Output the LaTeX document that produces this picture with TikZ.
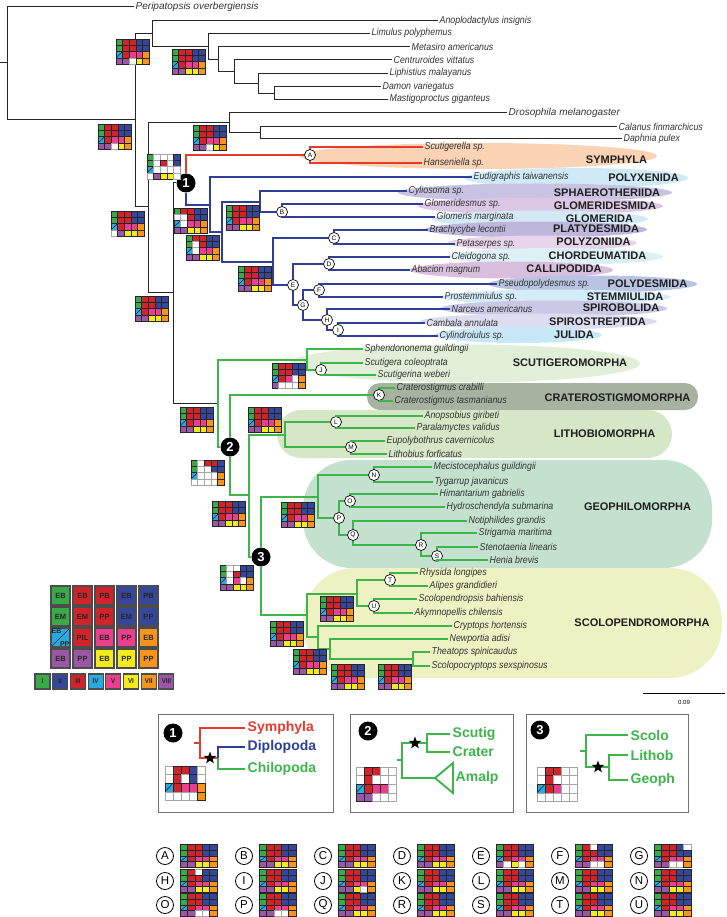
\documentclass[tikz,border=0pt]{standalone}
\usepackage{fontspec}
\setmainfont{Liberation Sans}
\newfontfamily\spfont[FakeStretch=0.88]{Liberation Sans}
\usetikzlibrary{shapes.geometric}
% cell colours
\definecolor{cG}{HTML}{3AAA49}
\definecolor{cR}{HTML}{D2232A}
\definecolor{cB}{HTML}{34479B}
\definecolor{cC}{HTML}{27AAE1}
\definecolor{cK}{HTML}{EC3E8E}
\definecolor{cY}{HTML}{F4EB1A}
\definecolor{cO}{HTML}{F7941D}
\definecolor{cU}{HTML}{9A57A5}
% branch colours
\definecolor{lnR}{HTML}{E8392C}
\definecolor{lnB}{HTML}{2F3F97}
\definecolor{lnG}{HTML}{3DB54A}
% clade bands
\definecolor{bSym}{HTML}{FAD2B4}
\definecolor{bPolx}{HTML}{CFE9F6}
\definecolor{bSpha}{HTML}{C8C3E2}
\definecolor{bGlds}{HTML}{DCC8E4}
\definecolor{bGlom}{HTML}{D3EAF6}
\definecolor{bPlat}{HTML}{BDB7DC}
\definecolor{bPolz}{HTML}{E6D4EA}
\definecolor{bChor}{HTML}{DDF0F6}
\definecolor{bCall}{HTML}{D9BEDD}
\definecolor{bPold}{HTML}{B9C4E2}
\definecolor{bStem}{HTML}{D3ECF8}
\definecolor{bSpir}{HTML}{C9C8E5}
\definecolor{bSpst}{HTML}{DCDDF0}
\definecolor{bJuli}{HTML}{C9E8F7}
\definecolor{bScut}{HTML}{E2EFD8}
\definecolor{bCrat}{HTML}{A7B2A0}
\definecolor{bLith}{HTML}{D5E7C6}
\definecolor{bGeop}{HTML}{C4E1CF}
\definecolor{bScol}{HTML}{EEF2C3}
\tikzset{
  blk/.style    = {line width=1pt, black!85},
  redl/.style   = {line width=1.9pt, lnR},
  bluel/.style  = {line width=1.9pt, lnB},
  grnl/.style   = {line width=1.9pt, lnG},
  sp/.style     = {anchor=west, inner sep=1.5pt, text=black!80, font=\spfont\itshape\fontsize{10}{11}\selectfont},
  spw/.style    = {sp, font=\itshape\fontsize{10}{11}\selectfont},
  clade/.style  = {inner sep=0pt, text=black!88, font=\bfseries\fontsize{11}{12}\selectfont},
  lettr/.style  = {circle, draw, fill=white, line width=0.7pt, inner sep=0pt, minimum size=11pt, font=\fontsize{6.5}{6.5}\selectfont},
  numb/.style   = {circle, fill=black, text=white, inner sep=0pt, minimum size=19pt, font=\bfseries\fontsize{13}{13}\selectfont},
  lcirc/.style  = {circle, draw, line width=0.8pt, inner sep=0pt, minimum size=17pt, font=\fontsize{11.5}{11.5}\selectfont},
  panel/.style  = {draw=black!55, line width=0.9pt, inner sep=0pt, minimum height=98pt},
  tl/.style     = {anchor=west, inner sep=2.5pt, font=\bfseries\fontsize{14}{14}\selectfont},
  starn/.style  = {star, star points=5, star point ratio=2.4, fill=black, inner sep=0pt, minimum size=13pt},
  cellg/.style  = {fill=cG, draw=black!85, line width=0.6pt},
  cellr/.style  = {fill=cR, draw=black!85, line width=0.6pt},
  cellb/.style  = {fill=cB, draw=black!85, line width=0.6pt},
  cellc/.style  = {fill=cC, draw=black!85, line width=0.6pt},
  cellk/.style  = {fill=cK, draw=black!85, line width=0.6pt},
  celly/.style  = {fill=cY, draw=black!85, line width=0.6pt},
  cello/.style  = {fill=cO, draw=black!85, line width=0.6pt},
  cellu/.style  = {fill=cU, draw=black!85, line width=0.6pt},
  cellw/.style  = {fill=white, draw=black!35, line width=0.6pt},
  celld/.style  = {fill=cC, draw=black!85, line width=0.6pt,
                   path picture={\draw[black!85, line width=0.6pt] (path picture bounding box.south west) -- (path picture bounding box.north east);}},
  lgcell/.style = {minimum size=19pt, inner sep=0pt, line width=1.1pt, draw=black!70, text=black!85, font=\bfseries\fontsize{7.5}{7.5}\selectfont},
  rmcell/.style = {minimum size=15pt, inner sep=0pt, line width=1.1pt, draw=black!70, text=black!85, font=\bfseries\spfont\fontsize{7}{7}\selectfont}
}
% x, y, cell width, cell height, colour list (5 per row)
\newcommand{\mgrid}[5]{%
  \edef\glist{#5}%
  \foreach \gc [count=\i from 0] in \glist {%
    \pgfmathtruncatemacro{\cx}{mod(\i,5)}%
    \pgfmathtruncatemacro{\cy}{(\i-\cx)/5}%
    \path[cell\gc] ({#1+\cx*#3},{#2+\cy*#4}) rectangle ++(#3,#4);
  }}
\newcommand{\tgrid}[3]{\mgrid{#1}{#2}{6.6}{6.3}{#3}}
% letter, x, y, colour list
\newcommand{\lgrid}[4]{%
  \node[lcirc] (k#1) at (#2,#3) {#1};
  \mgrid{#2+15}{#3-11.4}{7.4}{5.7}{#4}}
\def\fullg{g,r,r,b,b,g,r,r,b,b,d,r,k,k,o,u,u,y,y,o}

\begin{document}
\begin{tikzpicture}[x=1pt, y=-1pt]
\useasboundingbox (0,0) rectangle (726,917);

% ---- clade bands
\fill[bSym]  (478.5,156)   ellipse [x radius=178.5, y radius=13];
\fill[bPolx] (576.5,178)   ellipse [x radius=111.5, y radius=10];
\fill[bSpha] (535,192.5)   ellipse [x radius=137,   y radius=9];
\fill[bGlds] (540.5,206)   ellipse [x radius=122.5, y radius=8.5];
\fill[bGlom] (540,219)     ellipse [x radius=108,   y radius=8.5];
\fill[bPlat] (536,229.5)   ellipse [x radius=111,   y radius=8];
\fill[bPolz] (542,243)     ellipse [x radius=95,    y radius=7.5];
\fill[bChor] (555.5,256.5) ellipse [x radius=107.5, y radius=8.5];
\fill[bCall] (511.5,270)   ellipse [x radius=101.5, y radius=8.5];
\fill[bPold] (592.5,284)   ellipse [x radius=104.5, y radius=8.5];
\fill[bStem] (555,297)     ellipse [x radius=115,   y radius=7.5];
\fill[bSpir] (553.5,308.5) ellipse [x radius=113.5, y radius=8];
\fill[bSpst] (538.5,321.5) ellipse [x radius=118.5, y radius=8];
\fill[bJuli] (518.5,335)   ellipse [x radius=83.5,  y radius=8];
\fill[bScut] (465,363.5)   ellipse [x radius=175,   y radius=19];
\fill[bCrat, rounded corners=13pt] (367,383) rectangle (698,410);
\fill[bLith, rounded corners=24pt] (277,410) rectangle (672,458);
\fill[bGeop, rounded corners=48pt] (303,460) rectangle (712,568);
\fill[bScol, rounded corners=52pt] (303,568) rectangle (722,678);

% ---- clade names
\node[clade] (lSym)  at (616.5,160) {SYMPHYLA};
\node[clade] (lPolx) at (643.5,178) {POLYXENIDA};
\node[clade] (lSpha) at (607,193)   {SPHAEROTHERIIDA};
\node[clade] (lGlds) at (605,206)   {GLOMERIDESMIDA};
\node[clade] (lGlom) at (599.5,219) {GLOMERIDA};
\node[clade] (lPlat) at (596,229)   {PLATYDESMIDA};
\node[clade] (lPolz) at (593.5,242) {POLYZONIIDA};
\node[clade] (lChor) at (597.5,256) {CHORDEUMATIDA};
\node[clade] (lCall) at (564,269)   {CALLIPODIDA};
\node[clade] (lPold) at (647.5,284) {POLYDESMIDA};
\node[clade] (lStem) at (625,297)   {STEMMIULIDA};
\node[clade] (lSpir) at (621,308)   {SPIROBOLIDA};
\node[clade] (lSpst) at (597.5,322) {SPIROSTREPTIDA};
\node[clade] (lJuli) at (574,335)   {JULIDA};
\node[clade] (lScut) at (570,363)   {SCUTIGEROMORPHA};
\node[clade] (lCrat) at (617.5,398) {CRATEROSTIGMOMORPHA};
\node[clade] (lLith) at (604.5,434) {LITHOBIOMORPHA};
\node[clade] (lGeop) at (637.5,507) {GEOPHILOMORPHA};
\node[clade] (lScol) at (642,623)   {SCOLOPENDROMORPHA};

% ---- terminal taxa
\node[spw] (peri) at (134,7)     {Peripatopsis overbergiensis};
\node[sp]  (anop) at (438,20.7)  {Anoplodactylus insignis};
\node[sp]  (limu) at (370,33.3)  {Limulus polyphemus};
\node[sp]  (meta) at (410,46.7)  {Metasiro americanus};
\node[sp]  (cent) at (392,60)    {Centruroides vittatus};
\node[sp]  (liph) at (388,73.3)  {Liphistius malayanus};
\node[sp]  (damo) at (381,86.7)  {Damon variegatus};
\node[sp]  (mast) at (388,99.3)  {Mastigoproctus giganteus};
\node[spw] (dros) at (507,113)   {Drosophila melanogaster};
\node[sp]  (cala) at (617,127)   {Calanus finmarchicus};
\node[sp]  (daph) at (622,139)   {Daphnia pulex};
\node[sp]  (scge) at (423,147)   {Scutigerella sp.};
\node[sp]  (hans) at (422,163)   {Hanseniella sp.};
\node[sp]  (eudi) at (472,177)   {Eudigraphis taiwanensis};
\node[sp]  (cyli) at (407,191)   {Cyliosoma sp.};
\node[sp]  (glds) at (423,204)   {Glomeridesmus sp.};
\node[sp]  (glom) at (435,217)   {Glomeris marginata};
\node[sp]  (brac) at (428,230)   {Brachycybe lecontii};
\node[sp]  (peta) at (455,244)   {Petaserpes sp.};
\node[sp]  (clei) at (450,257)   {Cleidogona sp.};
\node[sp]  (abac) at (410,270)   {Abacion magnum};
\node[sp]  (pseu) at (497,284)   {Pseudopolydesmus sp.};
\node[sp]  (pros) at (443,297)   {Prostemmiulus sp.};
\node[sp]  (narc) at (450,309)   {Narceus americanus};
\node[sp]  (camb) at (425,323)   {Cambala annulata};
\node[sp]  (cyld) at (438,336)   {Cylindroiulus sp.};
\node[sp]  (sphe) at (363,349)   {Sphendononema guildingii};
\node[sp]  (scco) at (363,363)   {Scutigera coleoptrata};
\node[sp]  (scwe) at (376,375)   {Scutigerina weberi};
\node[sp]  (crcr) at (395,388)   {Craterostigmus crabilli};
\node[sp]  (crta) at (393,401)   {Craterostigmus tasmanianus};
\node[sp]  (anps) at (423,416)   {Anopsobius giribeti};
\node[sp]  (para) at (415,428)   {Paralamyctes validus};
\node[sp]  (eupo) at (385,441)   {Eupolybothrus cavernicolus};
\node[sp]  (lifo) at (387,454)   {Lithobius forficatus};
\node[sp]  (meci) at (432,467)   {Mecistocephalus guildingii};
\node[sp]  (tyga) at (433,482)   {Tygarrup javanicus};
\node[sp]  (hima) at (438,494)   {Himantarium gabrielis};
\node[sp]  (hydr) at (445,507)   {Hydroschendyla submarina};
\node[sp]  (noti) at (467,521)   {Notiphilides grandis};
\node[sp]  (stri) at (477,533)   {Strigamia maritima};
\node[sp]  (sten) at (478,547)   {Stenotaenia linearis};
\node[sp]  (heni) at (488,560)   {Henia brevis};
\node[sp]  (rhys) at (418,573)   {Rhysida longipes};
\node[sp]  (alip) at (428,586)   {Alipes grandidieri};
\node[sp]  (scbh) at (417,599)   {Scolopendropsis bahiensis};
\node[sp]  (akym) at (413,613)   {Akymnopellis chilensis};
\node[sp]  (cryp) at (452,626)   {Cryptops hortensis};
\node[sp]  (newp) at (448,639)   {Newportia adisi};
\node[sp]  (thea) at (430,652)   {Theatops spinicaudus};
\node[sp]  (scsx) at (430,666)   {Scolopocryptops sexspinosus};

% ---- internal nodes
\coordinate (rst)  at (0,63);
\coordinate (root) at (7,63);
\coordinate (arth) at (135,120);
\coordinate (chel) at (152,33.5);
\coordinate (ch2)  at (208,46.7);
\coordinate (ch3)  at (218,60);
\coordinate (ch4)  at (234,71.7);
\coordinate (ch5)  at (258,83.3);
\coordinate (ch6)  at (274,93.3);
\coordinate (mand) at (148,207);
\coordinate (panc) at (229,123);
\coordinate (crus) at (260,133);
\coordinate (myri) at (173,292);
\coordinate (dipl) at (210,205);
\coordinate (hepe) at (222,232);
\coordinate (pent) at (260,202);
\coordinate (helm) at (273,262);
\coordinate (chil) at (218,403);
\coordinate (scut) at (307,360);
\coordinate (plr2) at (249,495);
\coordinate (lith) at (285,435);
\coordinate (geop) at (318,497);
\coordinate (scol) at (307,615);
\coordinate (sc1)  at (357,594);
\coordinate (sc2)  at (318,637);
\coordinate (sc3)  at (330,649);
\coordinate (sc4)  at (413,659);

\node[numb] (n1) at (186,183) {1};
\node[numb] (n2) at (230,447) {2};
\node[numb] (n3) at (261,557) {3};
\node[lettr] (nA) at (310,155) {A};
\node[lettr] (nB) at (282,212) {B};
\node[lettr] (nC) at (334,238) {C};
\node[lettr] (nD) at (329,264) {D};
\node[lettr] (nE) at (293,285) {E};
\node[lettr] (nF) at (319,290) {F};
\node[lettr] (nG) at (303,305) {G};
\node[lettr] (nH) at (327,320) {H};
\node[lettr] (nI) at (338,330) {I};
\node[lettr] (nJ) at (321,370) {J};
\node[lettr] (nK) at (379,395) {K};
\node[lettr] (nL) at (336,422) {L};
\node[lettr] (nM) at (351,447) {M};
\node[lettr] (nN) at (374,475) {N};
\node[lettr] (nO) at (350,501) {O};
\node[lettr] (nP) at (339,518) {P};
\node[lettr] (nQ) at (353,535) {Q};
\node[lettr] (nR) at (421,545) {R};
\node[lettr] (nS) at (437,556) {S};
\node[lettr] (nT) at (390,580) {T};
\node[lettr] (nU) at (374,606) {U};

% ---- outgroups (black)
\draw[blk] (rst) -- (root);
\draw[blk] (root) |- (peri.west);
\draw[blk] (root) |- (arth);
\draw[blk] (arth) |- (chel);
\draw[blk] (arth) |- (mand);
\draw[blk] (chel) |- (anop.west);
\draw[blk] (chel) |- (ch2);
\draw[blk] (ch2) |- (limu.west);
\draw[blk] (ch2) |- (ch3);
\draw[blk] (ch3) |- (meta.west);
\draw[blk] (ch3) |- (ch4);
\draw[blk] (ch4) |- (cent.west);
\draw[blk] (ch4) |- (ch5);
\draw[blk] (ch5) |- (liph.west);
\draw[blk] (ch5) |- (ch6);
\draw[blk] (ch6) |- (damo.west);
\draw[blk] (ch6) |- (mast.west);
\draw[blk] (mand) |- (panc);
\draw[blk] (mand) |- (myri);
\draw[blk] (panc) |- (dros.west);
\draw[blk] (panc) |- (crus);
\draw[blk] (crus) |- (cala.west);
\draw[blk] (crus) |- (daph.west);
\draw[blk] (myri) |- (n1);
\draw[blk] (myri) |- (chil);

% ---- Symphyla (red)
\draw[redl] (n1) |- (nA);
\draw[redl] (nA) |- (scge.west);
\draw[redl] (nA) |- (hans.west);

% ---- Diplopoda (blue)
\draw[bluel] (n1) |- (dipl);
\draw[bluel] (dipl) |- (eudi.west);
\draw[bluel] (dipl) |- (hepe);
\draw[bluel] (hepe) |- (pent);
\draw[bluel] (hepe) |- (helm);
\draw[bluel] (pent) |- (cyli.west);
\draw[bluel] (pent) |- (nB);
\draw[bluel] (nB) |- (glds.west);
\draw[bluel] (nB) |- (glom.west);
\draw[bluel] (helm) |- (nC);
\draw[bluel] (helm) |- (nE);
\draw[bluel] (nC) |- (brac.west);
\draw[bluel] (nC) |- (peta.west);
\draw[bluel] (nE) |- (nD);
\draw[bluel] (nE) |- (nG);
\draw[bluel] (nD) |- (clei.west);
\draw[bluel] (nD) |- (abac.west);
\draw[bluel] (nG) |- (nF);
\draw[bluel] (nG) |- (nH);
\draw[bluel] (nF) |- (pseu.west);
\draw[bluel] (nF) |- (pros.west);
\draw[bluel] (nH) |- (narc.west);
\draw[bluel] (nH) |- (nI);
\draw[bluel] (nI) |- (camb.west);
\draw[bluel] (nI) |- (cyld.west);

% ---- Chilopoda (green)
\draw[grnl] (chil) |- (scut);
\draw[grnl] (chil) |- (n2);
\draw[grnl] (scut) |- (sphe.west);
\draw[grnl] (scut) |- (nJ);
\draw[grnl] (nJ) |- (scco.west);
\draw[grnl] (nJ) |- (scwe.west);
\draw[grnl] (n2) |- (nK);
\draw[grnl] (n2) |- (plr2);
\draw[grnl] (nK) |- (crcr.west);
\draw[grnl] (nK) |- (crta.west);
\draw[grnl] (plr2) |- (lith);
\draw[grnl] (plr2) |- (n3);
\draw[grnl] (lith) |- (nL);
\draw[grnl] (lith) |- (nM);
\draw[grnl] (nL) |- (anps.west);
\draw[grnl] (nL) |- (para.west);
\draw[grnl] (nM) |- (eupo.west);
\draw[grnl] (nM) |- (lifo.west);
\draw[grnl] (n3) |- (geop);
\draw[grnl] (n3) |- (scol);
\draw[grnl] (geop) |- (nN);
\draw[grnl] (geop) |- (nP);
\draw[grnl] (nN) |- (meci.west);
\draw[grnl] (nN) |- (tyga.west);
\draw[grnl] (nP) |- (nO);
\draw[grnl] (nP) |- (nQ);
\draw[grnl] (nO) |- (hima.west);
\draw[grnl] (nO) |- (hydr.west);
\draw[grnl] (nQ) |- (noti.west);
\draw[grnl] (nQ) |- (nR);
\draw[grnl] (nR) |- (stri.west);
\draw[grnl] (nR) |- (nS);
\draw[grnl] (nS) |- (sten.west);
\draw[grnl] (nS) |- (heni.west);
\draw[grnl] (scol) |- (sc1);
\draw[grnl] (scol) |- (sc2);
\draw[grnl] (sc1) |- (nT);
\draw[grnl] (sc1) |- (nU);
\draw[grnl] (nT) |- (rhys.west);
\draw[grnl] (nT) |- (alip.west);
\draw[grnl] (nU) |- (scbh.west);
\draw[grnl] (nU) |- (akym.west);
\draw[grnl] (sc2) |- (cryp.west);
\draw[grnl] (sc2) |- (sc3);
\draw[grnl] (sc3) |- (newp.west);
\draw[grnl] (sc3) |- (sc4);
\draw[grnl] (sc4) |- (thea.west);
\draw[grnl] (sc4) |- (scsx.west);

% ---- character grids on the tree
\tgrid{116}{39}{g,r,r,b,b,g,r,r,b,b,d,r,k,k,o,u,u,w,y,o}
\tgrid{172}{49}{\fullg}
\tgrid{98}{124}{g,r,r,b,b,g,r,r,b,b,d,r,k,k,o,u,u,w,y,o}
\tgrid{193}{125}{g,r,r,b,b,g,r,r,b,b,d,r,k,k,o,u,u,w,y,o}
\tgrid{147}{154}{g,w,w,w,b,g,w,r,w,b,d,w,w,w,w,w,u,y,y,w}
\tgrid{111}{211}{g,r,r,b,b,g,r,r,b,b,d,r,k,k,o,w,u,y,y,o}
\tgrid{174}{208}{g,r,r,b,b,w,w,r,b,b,d,w,k,k,o,u,u,y,y,o}
\tgrid{186}{235}{g,r,r,b,b,g,w,r,b,b,d,w,k,k,o,u,u,y,y,o}
\tgrid{226}{205}{\fullg}
\tgrid{238}{266}{\fullg}
\tgrid{135}{296}{\fullg}
\tgrid{272}{363}{g,r,r,b,b,g,r,r,b,b,d,r,k,w,o,u,w,w,w,o}
\tgrid{180}{407}{\fullg}
\tgrid{248}{407}{\fullg}
\tgrid{191}{460}{g,w,r,r,b,g,w,w,b,b,d,w,w,w,o,w,w,w,w,o}
\tgrid{212}{501}{\fullg}
\tgrid{281}{502}{\fullg}
\tgrid{220}{565}{g,w,w,b,b,g,w,r,b,b,d,w,k,w,o,u,u,y,y,o}
\tgrid{320}{596}{\fullg}
\tgrid{270}{621}{\fullg}
\tgrid{293}{649}{\fullg}
\tgrid{331}{664}{\fullg}
\tgrid{378}{664}{\fullg}

% ---- legend
\foreach \c/\t [count=\i from 0] in {g/EB,r/EB,r/PB,b/EB,b/PB,g/EM,r/EM,r/PP,b/EM,b/PP,d/,r/PIL,k/EB,k/PP,o/EB,u/EB,u/PP,y/EB,y/PP,o/PP}{
  \pgfmathtruncatemacro{\lx}{mod(\i,5)}
  \pgfmathtruncatemacro{\ly}{(\i-\lx)/5}
  \node[cell\c, lgcell] (lg\i) at ({60.5+\lx*22},{595.5+\ly*21}) {\t};
}
\node[anchor=north west, inner sep=1pt, font=\bfseries\fontsize{7}{7}\selectfont, text=black!85] (lgEB) at (lg10.north west) {EB};
\node[anchor=south east, inner sep=1pt, font=\bfseries\fontsize{7}{7}\selectfont, text=black!85] (lgPP) at (lg10.south east) {PP};
\foreach \c/\t [count=\i from 0] in {g/I,b/II,r/III,c/IV,k/V,y/VI,o/VII,u/VIII}{
  \node[cell\c, rmcell] (rm\i) at ({42.5+\i*17.7},681.5) {\t};
}

% ---- scale bar
\coordinate (sbl) at (643,693);
\coordinate (sbr) at (725,693);
\draw[line width=1pt] (sbl) -- (sbr) node[midway, below=3pt, font=\fontsize{6}{6}\selectfont] (sbt) {0.09};

% ---- panel 1
\node[panel, minimum width=175pt] (box1) at (245.5,763) {};
\node[numb] (m1) at (173,733) {1};
\node[tl, text=lnR] (tSym) at (245,728) {Symphyla};
\node[tl, text=lnB] (tDip) at (245,747) {Diplopoda};
\node[tl, text=lnG] (tChi) at (245,769) {Chilopoda};
\coordinate (b1r) at (194,743);
\coordinate (b1a) at (200,743);
\coordinate (b1s) at (218,758);
\draw[redl] (b1r) -- (b1a);
\draw[redl] (b1a) |- (tSym.west);
\draw[redl] (b1a) |- (b1s);
\draw[bluel] (b1s) |- (tDip.west);
\draw[grnl] (b1s) |- (tChi.west);
\node[starn] (st1) at (210,758) {};
\mgrid{165}{766}{8}{8.6}{w,r,r,b,w,w,r,w,b,w,d,r,k,k,o,w,w,w,w,o}

% ---- panel 2
\node[panel, minimum width=163pt] (box2) at (431.5,763) {};
\node[numb] (m2) at (368,731) {2};
\node[tl, text=lnG] (tScu) at (450,734) {Scutig};
\node[tl, text=lnG] (tCra) at (450,752) {Crater};
\node[tl, text=lnG] (tAma) at (453,778) {Amalp};
\coordinate (b2r) at (397,760);
\coordinate (b2a) at (402,760);
\coordinate (b2s) at (427,743);
\coordinate (tri) at (435,778);
\draw[grnl] (b2r) -- (b2a);
\draw[grnl] (b2a) |- (b2s);
\draw[grnl] (b2a) |- (tri);
\draw[grnl] (b2s) |- (tScu.west);
\draw[grnl] (b2s) |- (tCra.west);
\draw[grnl, line join=miter] (tri) -- (453,763) -- (453,793) -- cycle;
\node[starn] (st2) at (415,743) {};
\mgrid{356}{767}{8}{8.6}{w,r,r,w,w,w,r,w,w,w,d,r,k,k,w,u,u,w,w,w}

% ---- panel 3
\node[panel, minimum width=162pt] (box3) at (607,763) {};
\node[numb] (m3) at (540,730) {3};
\node[tl, text=lnG] (tSco) at (628,735) {Scolo};
\node[tl, text=lnG] (tLit) at (628,755) {Lithob};
\node[tl, text=lnG] (tGeo) at (628,780) {Geoph};
\coordinate (b3r) at (580,751);
\coordinate (b3a) at (586,751);
\coordinate (b3s) at (609,767);
\draw[grnl] (b3r) -- (b3a);
\draw[grnl] (b3a) |- (tSco.west);
\draw[grnl] (b3a) |- (b3s);
\draw[grnl] (b3s) |- (tLit.west);
\draw[grnl] (b3s) |- (tGeo.west);
\node[starn] (st3) at (598,767) {};
\mgrid{537}{767}{8}{8.6}{w,r,r,w,w,w,r,w,w,w,d,r,k,w,w,w,w,w,w,w}

% ---- ancestral states at lettered nodes
\lgrid{A}{165}{856}{\fullg}
\lgrid{B}{244}{856}{\fullg}
\lgrid{C}{323}{856}{\fullg}
\lgrid{D}{402}{856}{\fullg}
\lgrid{E}{481}{856}{g,r,r,b,b,g,r,r,b,b,d,r,k,k,o,u,w,y,w,o}
\lgrid{F}{560}{856}{g,r,w,b,b,g,r,r,b,b,d,r,k,k,o,u,u,w,w,o}
\lgrid{G}{639}{856}{g,r,r,b,w,g,r,r,b,b,d,r,k,k,o,u,u,w,w,o}
\lgrid{H}{165}{881}{g,r,w,b,b,g,r,r,b,b,d,r,k,k,o,u,u,y,y,o}
\lgrid{I}{244}{881}{\fullg}
\lgrid{J}{323}{881}{g,r,r,b,b,g,r,r,b,b,d,r,k,k,o,u,u,y,w,o}
\lgrid{K}{402}{881}{\fullg}
\lgrid{L}{481}{881}{\fullg}
\lgrid{M}{560}{881}{\fullg}
\lgrid{N}{639}{881}{\fullg}
\lgrid{O}{165}{905}{g,r,r,b,b,g,r,r,b,b,d,r,k,k,o,u,u,w,w,o}
\lgrid{P}{244}{905}{g,r,r,b,b,g,r,r,b,b,d,r,k,k,o,u,u,w,w,o}
\lgrid{Q}{323}{905}{\fullg}
\lgrid{R}{402}{905}{\fullg}
\lgrid{S}{481}{905}{\fullg}
\lgrid{T}{560}{905}{\fullg}
\lgrid{U}{639}{905}{\fullg}
\end{tikzpicture}
\end{document}
